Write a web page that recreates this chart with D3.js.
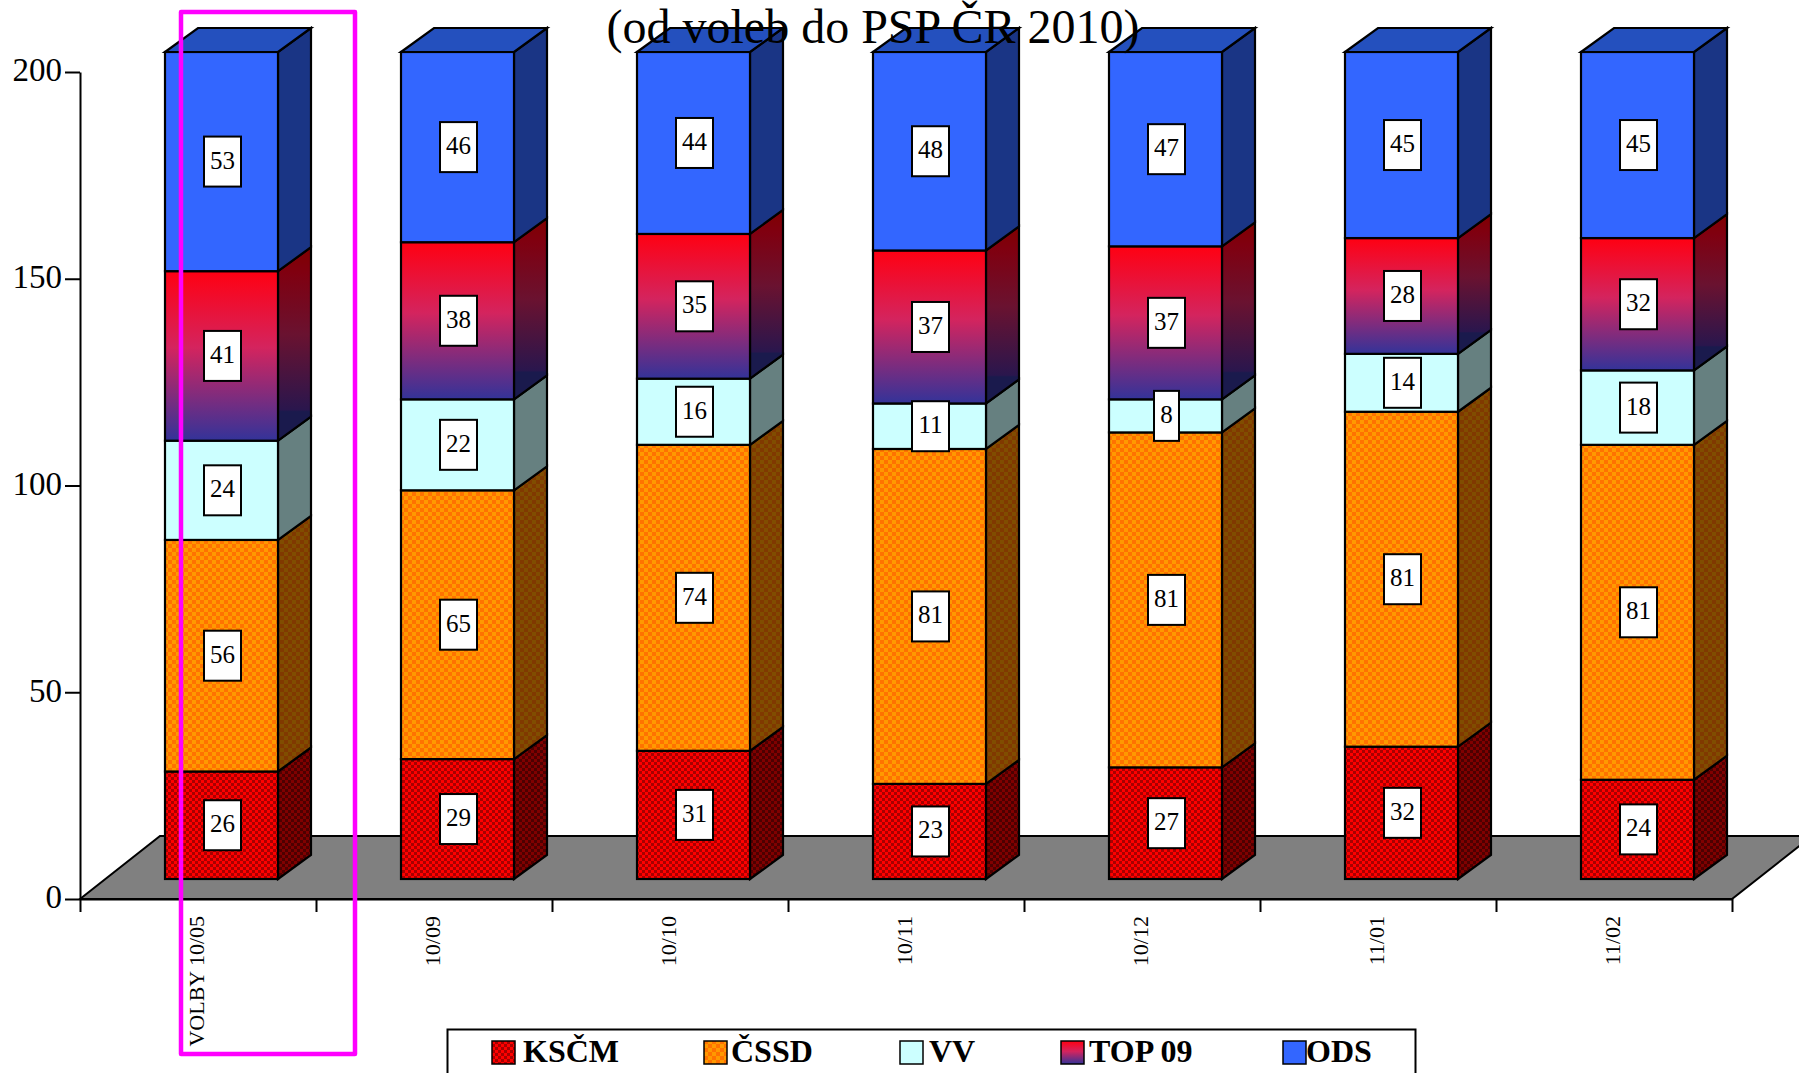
<!DOCTYPE html>
<html>
<head>
<meta charset="utf-8">
<script src="https://cdnjs.cloudflare.com/ajax/libs/d3/7.8.5/d3.min.js"></script>
<style>
    html, body { margin: 0; padding: 0; background: #fff; overflow: hidden; }
    text { font-family: "Liberation Serif", serif; fill: #000; }
</style>
</head>
<body>
<div id="chart"></div>
<script>
(function () {
    // values
    var categories = ['VOLBY 10/05', '10/09', '10/10', '10/11', '10/12', '11/01', '11/02'];
    var seriesNames = ['KSČM', 'ČSSD', 'VV', 'TOP 09', 'ODS'];
    var kscm = [26, 29, 31, 23, 27, 32, 24];
    var cssd = [56, 65, 74, 81, 81, 81, 81];
    var vv = [24, 22, 16, 11, 8, 14, 18];
    var top09 = [41, 38, 35, 37, 37, 28, 32];
    var ods = [53, 46, 44, 48, 47, 45, 45];
    var yTicks = [0, 50, 100, 150, 200];

    var width = 1799;
    var height = 1073;

    // the 3d look: how far the bar depth and the floor go back
    var depthX = 33;
    var depthY = 24;
    var floorX = 80;
    var floorY = 63;
    var barOffset = 85;
    var barWidth = 113;
    var barLift = 20;

    var svg = d3.select('#chart')
        .append('svg')
        .attr('width', width)
        .attr('height', height)
        .style('display', 'block');

    var defs = svg.append('defs');

    // checker fills, one for the front and one for the darker side
    function addChecker(id, cell, light, dark) {
        var p = defs.append('pattern')
            .attr('id', id)
            .attr('width', cell * 2)
            .attr('height', cell * 2)
            .attr('patternUnits', 'userSpaceOnUse');
        p.append('rect').attr('width', cell * 2).attr('height', cell * 2).attr('fill', light);
        p.append('rect').attr('width', cell).attr('height', cell).attr('fill', dark);
        p.append('rect').attr('x', cell).attr('y', cell).attr('width', cell).attr('height', cell).attr('fill', dark);
    }
    addChecker('kscm-front', 3, '#ff0000', '#a80000');
    addChecker('kscm-side', 3, '#800000', '#4d0000');
    addChecker('cssd-front', 4, '#ff9900', '#ff7200');
    addChecker('cssd-side', 4, '#804d00', '#803900');

    function addGradient(id, stops) {
        var g = defs.append('linearGradient')
            .attr('id', id)
            .attr('x1', 0).attr('y1', 0)
            .attr('x2', 0).attr('y2', 1);
        stops.forEach(function (s) {
            g.append('stop').attr('offset', s[0]).attr('stop-color', s[1]);
        });
    }
    addGradient('top-front', [[0, '#ff0012'], [0.45, '#d4245e'], [1, '#333399']]);
    addGradient('top-side', [[0, '#800000'], [0.13, '#800010'], [0.45, '#6a1230'], [0.84, '#2a164d'], [0.85, '#1a1a4d'], [1, '#1a1a4d']]);

    var fronts = ['url(#kscm-front)', 'url(#cssd-front)', '#ccffff', 'url(#top-front)', '#3366ff'];
    var sides = ['url(#kscm-side)', 'url(#cssd-side)', '#668080', 'url(#top-side)', '#1a3585'];

    // scales
    var y = d3.scaleLinear().domain([0, 200]).range([899, 72]);
    var x = d3.scaleBand().domain(categories).range([80, 1732]);
    var xEdges = d3.scaleLinear().domain([0, categories.length]).range([80, 1732]);

    // floor
    svg.append('polygon')
        .attr('points', [
            [x.range()[0], y(0)],
            [x.range()[0] + floorX, y(0) - floorY],
            [x.range()[1] + floorX, y(0) - floorY],
            [x.range()[1], y(0)]
        ].join(' '))
        .attr('fill', '#808080')
        .attr('stroke', '#000')
        .attr('stroke-width', 2);

    // stack the series, bottom one first
    var rows = categories.map(function (c, i) {
        return { category: c, 0: kscm[i], 1: cssd[i], 2: vv[i], 3: top09[i], 4: ods[i] };
    });
    var stacked = d3.stack().keys([0, 1, 2, 3, 4])(rows);

    var bars = svg.append('g').attr('class', 'bars');

    stacked.forEach(function (layer, s) {
        var g = bars.append('g').attr('class', 'layer');

        // side face
        g.selectAll('polygon.side')
            .data(layer)
            .enter()
            .append('polygon')
            .attr('class', 'side')
            .attr('points', function (d) {
                var x1 = x(d.data.category) + barOffset + barWidth;
                var y0 = y(d[0]) - barLift;
                var y1 = y(d[1]) - barLift;
                return [[x1, y0], [x1, y1], [x1 + depthX, y1 - depthY], [x1 + depthX, y0 - depthY]].join(' ');
            })
            .attr('fill', sides[s])
            .attr('stroke', '#000')
            .attr('stroke-width', 2.2);

        // front face
        g.selectAll('rect.front')
            .data(layer)
            .enter()
            .append('rect')
            .attr('class', 'front')
            .attr('x', function (d) { return x(d.data.category) + barOffset; })
            .attr('y', function (d) { return y(d[1]) - barLift; })
            .attr('width', barWidth)
            .attr('height', function (d) { return y(d[0]) - y(d[1]); })
            .attr('fill', fronts[s])
            .attr('stroke', '#000')
            .attr('stroke-width', 2.2);

        // only the top series shows its lid
        if (s === stacked.length - 1) {
            g.selectAll('polygon.lid')
                .data(layer)
                .enter()
                .append('polygon')
                .attr('class', 'lid')
                .attr('points', function (d) {
                    var x0 = x(d.data.category) + barOffset;
                    var y1 = y(d[1]) - barLift;
                    return [[x0, y1], [x0 + depthX, y1 - depthY], [x0 + barWidth + depthX, y1 - depthY], [x0 + barWidth, y1]].join(' ');
                })
                .attr('fill', '#2450be')
                .attr('stroke', '#000')
                .attr('stroke-width', 2.2);
        }
    });

    // value labels in their white boxes
    var labels = svg.append('g').attr('class', 'labels');
    stacked.forEach(function (layer, s) {
        var lab = labels.selectAll('g.l' + s)
            .data(layer)
            .enter()
            .append('g')
            .attr('class', 'l' + s)
            .attr('transform', function (d) {
                var cx = x(d.data.category) + barOffset + barWidth / 2 + 1;
                var cy = (y(d[0]) + y(d[1])) / 2 - barLift;
                return 'translate(' + cx + ',' + cy + ')';
            });
        lab.append('rect')
            .attr('x', function (d) { return d[1] - d[0] < 10 ? -12.5 : -18.5; })
            .attr('y', -25)
            .attr('width', function (d) { return d[1] - d[0] < 10 ? 25 : 37; })
            .attr('height', 50)
            .attr('fill', '#fff')
            .attr('stroke', '#000')
            .attr('stroke-width', 2);
        lab.append('text')
            .attr('text-anchor', 'middle')
            .attr('y', 7)
            .style('font-size', '25px')
            .text(function (d) { return d[1] - d[0]; });
    });

    // y axis
    var yAxis = svg.append('g')
        .attr('transform', 'translate(80,0)')
        .call(d3.axisLeft(y).tickValues(yTicks).tickSize(15).tickPadding(3).tickSizeOuter(0));
    yAxis.selectAll('line, path').attr('stroke', '#000').attr('stroke-width', 2);
    yAxis.selectAll('text')
        .style('font-family', '"Liberation Serif", serif')
        .style('font-size', '33px')
        .attr('dy', '0.27em');

    // x axis: ticks sit on the band edges, labels run up the band middle
    var xAxis = svg.append('g')
        .attr('transform', 'translate(0,' + y(0) + ')')
        .call(d3.axisBottom(xEdges).tickValues(d3.range(categories.length + 1)).tickSize(13).tickFormat('').tickSizeOuter(0));
    xAxis.selectAll('line, path').attr('stroke', '#000').attr('stroke-width', 2);

    svg.append('g')
        .selectAll('text')
        .data(categories)
        .enter()
        .append('text')
        .attr('transform', function (d) {
            return 'translate(' + (x(d) + x.bandwidth() / 2 - 1.5) + ',916) rotate(-90)';
        })
        .attr('text-anchor', 'end')
        .attr('dy', '0.34em')
        .style('font-size', '22px')
        .text(function (d) { return d; });

    // legend, its box runs off the bottom of the page
    var legendX = [492, 704, 900, 1061, 1283];
    var legendTextX = [523, 731, 929, 1089, 1306];
    var legend = svg.append('g');
    legend.append('rect')
        .attr('x', 447.5).attr('y', 1029.5)
        .attr('width', 968).attr('height', 60)
        .attr('fill', '#fff')
        .attr('stroke', '#000')
        .attr('stroke-width', 2);
    var items = legend.selectAll('g.item')
        .data(seriesNames)
        .enter()
        .append('g')
        .attr('class', 'item');
    items.append('rect')
        .attr('x', function (d, i) { return legendX[i]; })
        .attr('y', 1041)
        .attr('width', 23)
        .attr('height', 23)
        .attr('fill', function (d, i) { return fronts[i]; })
        .attr('stroke', '#000')
        .attr('stroke-width', 1.5);
    items.append('text')
        .attr('x', function (d, i) { return legendTextX[i]; })
        .attr('y', 1062)
        .style('font-size', '32px')
        .style('font-weight', 'bold')
        .text(function (d) { return d; });

    // highlight around the election column
    svg.append('rect')
        .attr('x', 181).attr('y', 12)
        .attr('width', 174).attr('height', 1042)
        .attr('fill', 'none')
        .attr('stroke', '#ff00ff')
        .attr('stroke-width', 4.5)
        .attr('stroke-linejoin', 'round');

    // title sits over the bars
    svg.append('text')
        .attr('x', 873)
        .attr('y', 43)
        .attr('text-anchor', 'middle')
        .style('font-size', '48px')
        .text('(od voleb do PSP ČR 2010)');
})();
</script>
</body>
</html>
